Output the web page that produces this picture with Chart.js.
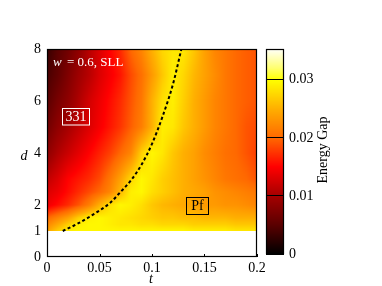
<!DOCTYPE html>
<html>
<head>
<meta charset="utf-8">
<script src="https://cdn.jsdelivr.net/npm/chart.js@4.4.1/dist/chart.umd.min.js"></script>
<style>
  body { margin: 0; background: #fff; }
  #wrap { position: relative; width: 382px; height: 286px; }
  canvas { position: absolute; left: 0; top: 0; }
</style>
</head>
<body>
<div id="wrap">
  <canvas id="gapChart" width="382" height="286"></canvas>
  <canvas id="barChart" width="382" height="286"></canvas>
</div>
<script>
// grid of the energy gap map
var tGrid = [0, 0.01, 0.02, 0.03, 0.04, 0.05, 0.06, 0.07, 0.08, 0.09, 0.10,
             0.11, 0.12, 0.13, 0.14, 0.15, 0.16, 0.17, 0.18, 0.19, 0.20];
var dGrid = [1, 1.25, 1.5, 2, 2.5, 3, 4, 5, 6, 7, 8];
// gap[i][j] -> d = dGrid[i], t = tGrid[j]
var gap = [
  [0.0240, 0.0270, 0.0290, 0.0295, 0.0295, 0.0295, 0.0295, 0.0295, 0.0295, 0.0295, 0.0295, 0.0295, 0.0295, 0.0295, 0.0290, 0.0290, 0.0290, 0.0290, 0.0285, 0.0285, 0.0285],
  [0.0220, 0.0245, 0.0270, 0.0290, 0.0295, 0.0295, 0.0290, 0.0285, 0.0285, 0.0280, 0.0280, 0.0275, 0.0275, 0.0275, 0.0270, 0.0270, 0.0270, 0.0270, 0.0265, 0.0265, 0.0265],
  [0.0200, 0.0220, 0.0240, 0.0270, 0.0290, 0.0295, 0.0290, 0.0285, 0.0280, 0.0275, 0.0270, 0.0265, 0.0265, 0.0260, 0.0260, 0.0255, 0.0255, 0.0255, 0.0250, 0.0250, 0.0250],
  [0.0140, 0.0155, 0.0170, 0.0190, 0.0215, 0.0250, 0.0280, 0.0295, 0.0290, 0.0280, 0.0265, 0.0255, 0.0250, 0.0245, 0.0240, 0.0235, 0.0235, 0.0230, 0.0230, 0.0225, 0.0220],
  [0.0130, 0.0140, 0.0155, 0.0170, 0.0185, 0.0200, 0.0220, 0.0255, 0.0290, 0.0295, 0.0280, 0.0270, 0.0260, 0.0250, 0.0245, 0.0240, 0.0230, 0.0225, 0.0220, 0.0215, 0.0210],
  [0.0115, 0.0130, 0.0150, 0.0160, 0.0170, 0.0185, 0.0210, 0.0240, 0.0275, 0.0295, 0.0285, 0.0270, 0.0260, 0.0250, 0.0240, 0.0230, 0.0220, 0.0210, 0.0205, 0.0200, 0.0190],
  [0.0085, 0.0105, 0.0120, 0.0135, 0.0150, 0.0165, 0.0180, 0.0200, 0.0220, 0.0270, 0.0295, 0.0285, 0.0265, 0.0250, 0.0240, 0.0225, 0.0215, 0.0205, 0.0200, 0.0190, 0.0180],
  [0.0065, 0.0085, 0.0100, 0.0115, 0.0130, 0.0145, 0.0160, 0.0175, 0.0195, 0.0215, 0.0250, 0.0290, 0.0285, 0.0265, 0.0250, 0.0235, 0.0220, 0.0210, 0.0200, 0.0190, 0.0185],
  [0.0050, 0.0070, 0.0085, 0.0105, 0.0125, 0.0140, 0.0155, 0.0170, 0.0190, 0.0210, 0.0250, 0.0280, 0.0290, 0.0270, 0.0250, 0.0235, 0.0220, 0.0210, 0.0200, 0.0195, 0.0190],
  [0.0040, 0.0055, 0.0075, 0.0095, 0.0110, 0.0130, 0.0145, 0.0160, 0.0185, 0.0205, 0.0235, 0.0265, 0.0290, 0.0275, 0.0255, 0.0240, 0.0225, 0.0210, 0.0200, 0.0195, 0.0190],
  [0.0030, 0.0050, 0.0065, 0.0085, 0.0110, 0.0130, 0.0150, 0.0170, 0.0200, 0.0220, 0.0250, 0.0275, 0.0285, 0.0285, 0.0265, 0.0240, 0.0220, 0.0210, 0.0200, 0.0195, 0.0190]
];

// dashed phase boundary
var lineT = [0.015, 0.03, 0.045, 0.06, 0.07, 0.08, 0.09, 0.10, 0.11, 0.12, 0.128];
var lineD = [1.0, 1.3, 1.66, 2.08, 2.5, 2.95, 3.55, 4.35, 5.4, 6.65, 8.0];

// ticks
var xTicks = [0, 0.05, 0.1, 0.15, 0.2];
var yTicks = [0, 1, 2, 4, 6, 8];
var cbTicks = [0, 0.01, 0.02, 0.03];
var cbMax = 0.0353;

var serif = "'Liberation Serif', 'Times New Roman', 'DejaVu Serif', serif";

// colour map (black - red - orange - yellow - white)
var cmapStops = [
  [0, [0, 0, 0]],
  [0.005, [90, 0, 0]],
  [0.01, [165, 0, 0]],
  [0.015, [255, 0, 0]],
  [0.02, [255, 105, 0]],
  [0.025, [255, 175, 0]],
  [0.03, [255, 255, 0]],
  [0.032, [255, 255, 110]],
  [0.0353, [255, 255, 250]]
];

function gapColor(v) {
  if (v <= cmapStops[0][0]) return cmapStops[0][1];
  for (var i = 1; i < cmapStops.length; i++) {
    if (v <= cmapStops[i][0]) {
      var a = cmapStops[i - 1], b = cmapStops[i];
      var f = (v - a[0]) / (b[0] - a[0]);
      return [0, 1, 2].map(function(k) { return a[1][k] + f * (b[1][k] - a[1][k]); });
    }
  }
  return cmapStops[cmapStops.length - 1][1];
}

function findCell(arr, v) {
  for (var i = 0; i < arr.length - 2; i++) {
    if (v < arr[i + 1]) return i;
  }
  return arr.length - 2;
}

function clamp01(f) { return Math.max(0, Math.min(1, f)); }

function gapAt(t, d) {
  var j = findCell(tGrid, t), i = findCell(dGrid, d);
  var ft = clamp01((t - tGrid[j]) / (tGrid[j + 1] - tGrid[j]));
  var fd = clamp01((d - dGrid[i]) / (dGrid[i + 1] - dGrid[i]));
  var a = gap[i][j] * (1 - ft) + gap[i][j + 1] * ft;
  var b = gap[i + 1][j] * (1 - ft) + gap[i + 1][j + 1] * ft;
  return a * (1 - fd) + b * fd;
}

// draws the map under the dashed line, then frame and labels on top
var heatmapPlugin = {
  id: 'heatmap',
  beforeDatasetsDraw: function(chart) {
    var a = chart.chartArea, xs = chart.scales.x, ys = chart.scales.y;
    var w = Math.round(a.right - a.left), h = Math.round(a.bottom - a.top);
    var off = document.createElement('canvas');
    off.width = w; off.height = h;
    var octx = off.getContext('2d');
    var img = octx.createImageData(w, h);
    for (var py = 0; py < h; py++) {
      var d = ys.getValueForPixel(a.top + py + 0.5);
      for (var px = 0; px < w; px++) {
        var t = xs.getValueForPixel(a.left + px + 0.5);
        var c = d < dGrid[0] ? [255, 255, 255] : gapColor(gapAt(t, d));
        var k = (py * w + px) * 4;
        img.data[k] = c[0]; img.data[k + 1] = c[1]; img.data[k + 2] = c[2]; img.data[k + 3] = 255;
      }
    }
    octx.putImageData(img, 0, 0);
    chart.ctx.drawImage(off, a.left, a.top);
  },
  afterDraw: function(chart) {
    var ctx = chart.ctx, a = chart.chartArea, xs = chart.scales.x;
    ctx.save();
    ctx.strokeStyle = '#000';
    ctx.lineWidth = 1.2;
    ctx.strokeRect(a.left + 0.5, a.top + 0.5, a.right - a.left - 1, a.bottom - a.top - 1);
    // small inward ticks on the bottom axis
    ctx.lineWidth = 1;
    xTicks.forEach(function(v) {
      var x = Math.round(xs.getPixelForValue(v)) + 0.5;
      ctx.beginPath(); ctx.moveTo(x, a.bottom); ctx.lineTo(x, a.bottom - 3); ctx.stroke();
    });

    ctx.textBaseline = 'middle';
    // axis titles
    ctx.fillStyle = '#000';
    ctx.textAlign = 'center';
    ctx.font = 'italic 14px ' + serif;
    ctx.fillText('t', 151, 279);
    ctx.fillText('d', 24, 156);

    // panel label
    ctx.fillStyle = '#fff';
    ctx.textAlign = 'left';
    ctx.font = 'italic 13px ' + serif;
    ctx.fillText('w', 53, 63);
    ctx.font = '13px ' + serif;
    ctx.fillText('= 0.6, SLL', 67, 63);

    // phase labels
    ctx.font = '14px ' + serif;
    ctx.textAlign = 'center';
    ctx.strokeStyle = '#fff';
    ctx.lineWidth = 1;
    ctx.strokeRect(62.5, 108.5, 27, 16.5);
    ctx.fillText('331', 76, 117.5);

    ctx.fillStyle = '#000';
    ctx.strokeStyle = '#000';
    ctx.strokeRect(186.5, 197.5, 22, 17);
    ctx.fillText('Pf', 197.5, 206.5);
    ctx.restore();
  }
};

var tickFont = { family: serif, size: 14 };

var mainChart = new Chart(document.getElementById('gapChart').getContext('2d'), {
  type: 'line',
  data: {
    datasets: [{
      data: lineT.map(function(t, i) { return { x: t, y: lineD[i] }; }),
      borderColor: '#000',
      borderWidth: 2,
      borderDash: [3, 2.5],
      pointRadius: 0,
      cubicInterpolationMode: 'monotone',
      fill: false
    }]
  },
  options: {
    responsive: false,
    animation: false,
    events: [],
    layout: { padding: { left: 0, right: 125, top: 49, bottom: 0 } },
    plugins: { legend: { display: false }, tooltip: { enabled: false } },
    scales: {
      x: {
        type: 'linear', min: 0, max: 0.2,
        grid: { display: false, drawTicks: false },
        border: { display: false },
        afterBuildTicks: function(s) { s.ticks = xTicks.map(function(v) { return { value: v }; }); },
        afterFit: function(s) { s.height = 29; },
        ticks: { padding: 3, color: '#000', font: tickFont, maxRotation: 0, autoSkip: false,
                 callback: function(v) { return String(v); } }
      },
      y: {
        type: 'linear', min: 0, max: 8,
        grid: { display: false, drawTicks: false },
        border: { display: false },
        afterBuildTicks: function(s) { s.ticks = yTicks.map(function(v) { return { value: v }; }); },
        afterFit: function(s) { s.width = 47; },
        ticks: { padding: 6, color: '#000', font: tickFont, autoSkip: false,
                 callback: function(v) { return String(v); } }
      }
    }
  },
  plugins: [heatmapPlugin]
});

// colour bar
var colorbarPlugin = {
  id: 'colorbar',
  beforeDraw: function(chart) {
    var ctx = chart.ctx, a = chart.chartArea, ys = chart.scales.y;
    for (var y = Math.floor(a.top); y < a.bottom; y++) {
      var c = gapColor(ys.getValueForPixel(y + 0.5));
      ctx.fillStyle = 'rgb(' + Math.round(c[0]) + ',' + Math.round(c[1]) + ',' + Math.round(c[2]) + ')';
      ctx.fillRect(a.left, y, a.right - a.left, 1);
    }
  },
  afterDraw: function(chart) {
    var ctx = chart.ctx, a = chart.chartArea;
    ctx.save();
    ctx.strokeStyle = '#000';
    ctx.lineWidth = 1.2;
    ctx.strokeRect(a.left + 0.5, a.top + 0.5, a.right - a.left - 1, a.bottom - a.top - 1);
    ctx.translate(323, 150);
    ctx.rotate(-Math.PI / 2);
    ctx.fillStyle = '#000';
    ctx.font = '14px ' + serif;
    ctx.textAlign = 'center';
    ctx.textBaseline = 'middle';
    ctx.fillText('Energy Gap', 0, 0);
    ctx.restore();
  }
};

var cbChart = new Chart(document.getElementById('barChart').getContext('2d'), {
  type: 'line',
  data: { datasets: [] },
  options: {
    responsive: false,
    animation: false,
    events: [],
    layout: { padding: { left: 266, right: 0, top: 49, bottom: 32 } },
    plugins: { legend: { display: false }, tooltip: { enabled: false } },
    scales: {
      x: { type: 'linear', display: false, min: 0, max: 1 },
      y: {
        type: 'linear', position: 'right', min: 0, max: cbMax,
        grid: { color: '#000', lineWidth: 1, drawTicks: false },
        border: { display: false },
        afterBuildTicks: function(s) { s.ticks = cbTicks.map(function(v) { return { value: v }; }); },
        afterFit: function(s) { s.width = 98; },
        ticks: { padding: 5, color: '#000', font: tickFont, autoSkip: false,
                 callback: function(v) { return String(v); } }
      }
    }
  },
  plugins: [colorbarPlugin]
});
</script>
</body>
</html>
